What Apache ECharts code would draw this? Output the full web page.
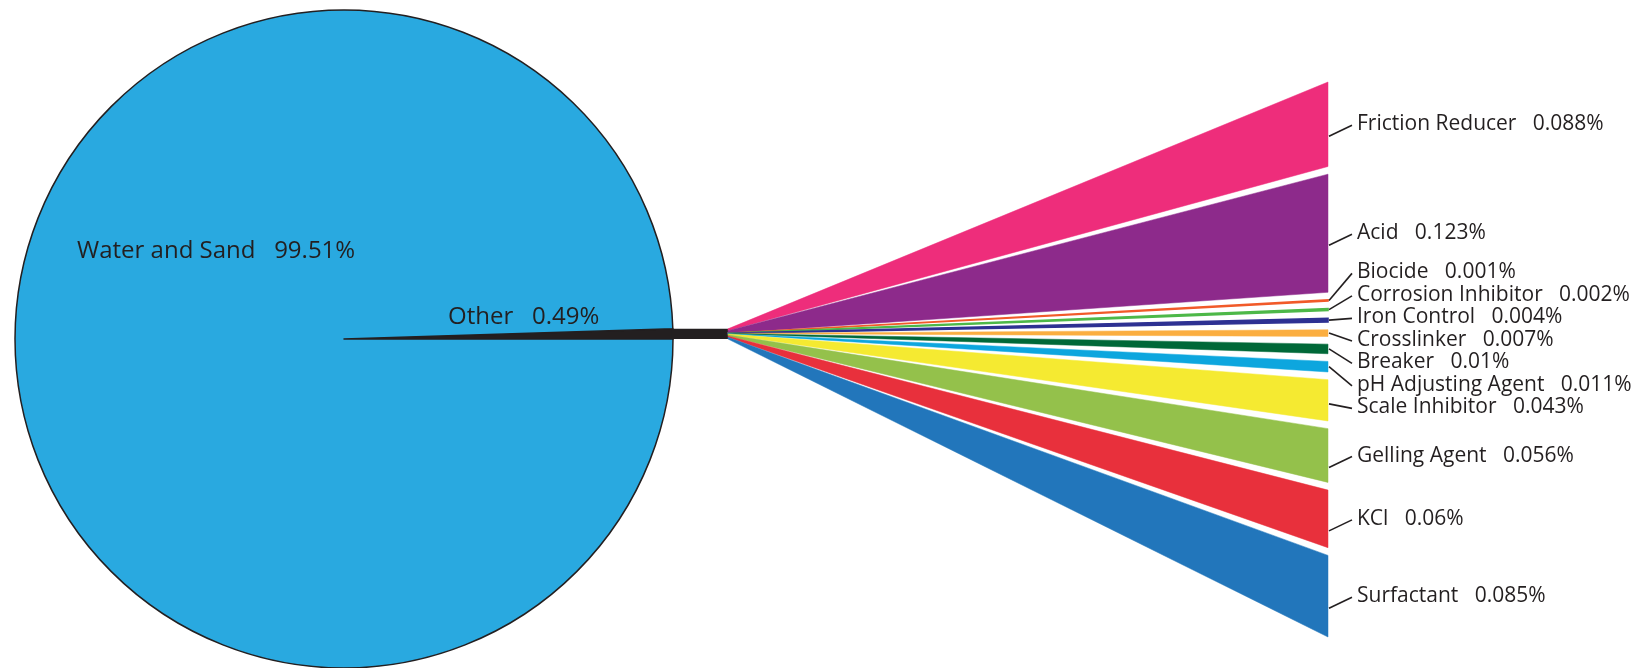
<!DOCTYPE html>
<html><head><meta charset="utf-8">
<script src="https://cdn.jsdelivr.net/npm/echarts@6/dist/echarts.min.js"></script>
<style>html,body{margin:0;padding:0;background:#fff}#c{width:1638px;height:668px}</style>
</head><body><div id="c"></div>
<script>
// ---- data ----
const pieNames = ['Other', 'Water and Sand'];
const pieValues = [0.49, 99.51];
const partNames = ['Friction Reducer', 'Acid', 'Biocide', 'Corrosion Inhibitor', 'Iron Control',
  'Crosslinker', 'Breaker', 'pH Adjusting Agent', 'Scale Inhibitor', 'Gelling Agent', 'KCl', 'Surfactant'];
const partValues = [0.088, 0.123, 0.001, 0.002, 0.004, 0.007, 0.01, 0.011, 0.043, 0.056, 0.06, 0.085];

// ---- styles / layout ----
const FONT = 'Open Sans';
const TEXT = '#231F20';
const pieColors = ['#231F20', '#29A9E0'];
const partColors = ['#EE2D7B', '#8D2A8B', '#F15A29', '#4DB848', '#2E3192', '#FBAE40',
  '#006838', '#0DA6DE', '#F5EA31', '#94C14B', '#E8303C', '#2276BB'];
const PIE_CX = 344, PIE_CY = 339, PIE_R = 329;
const FAN_X0 = 728, FAN_X1 = 1328, FAN_TOP = 82, FAN_BOTTOM = 637;
const GAP = 0.008;          // gap between fan wedges (value units)
const LABEL_STEP = 22.5;    // min px between labels
const LABEL_X = 1357, LINE_X = 1352;

const pieTotal = pieValues.reduce((a, b) => a + b, 0);
const otherAngle = pieValues[0] / pieTotal * Math.PI * 2;
const BAR_TOP = PIE_CY - PIE_R * Math.sin(otherAngle);
const BAR_BOTTOM = PIE_CY;

const total = partValues.reduce((a, b) => a + b, 0);
const segs = [];
let acc = 0, cum = 0;
partValues.forEach((v, i) => { segs.push([i, acc, acc + v, cum, cum + v]); acc += v + GAP; cum += v; });
const yMax = acc - GAP;
const pxPerUnit = (FAN_BOTTOM - FAN_TOP) / yMax;

// label placement (value units), cluster-based overlap resolution
const step = LABEL_STEP / pxPerUnit;
const desired = segs.map(s => (s[1] + s[2]) / 2);
let clusters = [];
desired.forEach((d, i) => {
  clusters.push({ items: [i], sum: d, start: d });
  while (clusters.length > 1) {
    const c = clusters[clusters.length - 1], p = clusters[clusters.length - 2];
    if (p.start + p.items.length * step > c.start) {
      const items = p.items.concat(c.items), sum = p.sum + c.sum;
      clusters.splice(clusters.length - 2, 2, { items, sum, start: sum / items.length - (items.length - 1) * step / 2 });
    } else break;
  }
});
const labelPos = [];
clusters.forEach(c => c.items.forEach((idx, k) => { labelPos[idx] = c.start + k * step; }));
segs.forEach((s, i) => s.push(labelPos[i]));

const chart = echarts.init(document.getElementById('c'), null, { renderer: 'canvas' });
chart.setOption({
  animation: false,
  backgroundColor: '#fff',
  grid: { left: FAN_X0, width: FAN_X1 - FAN_X0, top: FAN_TOP, height: FAN_BOTTOM - FAN_TOP, containLabel: false },
  xAxis: { type: 'value', min: 0, max: 1, show: false },
  yAxis: { type: 'value', min: 0, max: yMax, inverse: true, show: false },
  series: [
    {
      type: 'pie', z: 1,
      center: [PIE_CX, PIE_CY], radius: PIE_R,
      startAngle: otherAngle * 180 / Math.PI, clockwise: true,
      avoidLabelOverlap: false, silent: true,
      itemStyle: { borderColor: '#231F20', borderWidth: 1.5 },
      label: {
        show: true, position: 'inside', formatter: p => p.name + '   ' + p.value + '%',
        color: TEXT, fontFamily: FONT, fontSize: 24
      },
      labelLine: { show: false },
      labelLayout: p => p.dataIndex === 1
        ? { x: PIE_CX - 267, y: PIE_CY - 88, align: 'left', verticalAlign: 'middle' }
        : { x: PIE_CX + 104, y: PIE_CY - 22, align: 'left', verticalAlign: 'middle' },
      data: pieNames.map((n, i) => ({ name: n, value: pieValues[i], itemStyle: { color: pieColors[i] } }))
    },
    {
      type: 'custom', z: 3, silent: true,
      data: [[0]],
      renderItem: (params, api) => {
        const x0 = api.coord([0, 0])[0];
        const xt = PIE_CX + PIE_R * Math.cos(otherAngle) - 1;
        return {
          type: 'polygon',
          shape: { points: [[xt, BAR_TOP], [x0 + 0.5, BAR_TOP], [x0 + 0.5, BAR_BOTTOM], [PIE_CX + PIE_R - 1, BAR_BOTTOM]] },
          style: { fill: pieColors[0] }
        };
      }
    },
    {
      type: 'custom', z: 4, silent: true,
      data: segs,
      renderItem: (params, api) => {
        const i = api.value(0);
        const top = api.coord([1, api.value(1)]);
        const bot = api.coord([1, api.value(2)]);
        const x0 = api.coord([0, 0])[0];
        const lt = BAR_TOP + api.value(3) / total * (BAR_BOTTOM - BAR_TOP);
        const lb = BAR_TOP + api.value(4) / total * (BAR_BOTTOM - BAR_TOP);
        const ly = api.coord([1, api.value(5)])[1];
        const h = bot[1] - top[1];
        // anchor on the wedge's right edge, pulled a little away from the label toward the wedge's lower part
        const mid = (top[1] + bot[1]) / 2;
        const ay = h > 40 ? Math.min(bot[1] - 6, Math.max(top[1] + 6, ly + (mid - ly) * 0.5 + (ly <= mid + 2 && ly >= mid - 8 ? 12 : 0))) : mid;
        const thin = h < 4;
        return {
          type: 'group',
          children: [
            {
              type: 'polygon',
              shape: { points: [[x0, lt], top, bot, [x0, lb]] },
              style: { fill: partColors[i], stroke: partColors[i], lineWidth: thin ? 1.6 : 0.5 }
            },
            {
              type: 'polyline',
              shape: { points: [[FAN_X1 + 1, ay], [LINE_X, ly + 1]] },
              style: { stroke: TEXT, lineWidth: 1.6, fill: null }
            },
            {
              type: 'text',
              style: {
                x: LABEL_X, y: ly, text: partNames[i] + '   ' + partValues[i] + '%',
                fill: TEXT, font: '21px "' + FONT + '"', textAlign: 'left', textVerticalAlign: 'middle'
              }
            }
          ]
        };
      }
    }
  ]
});
</script></body></html>
